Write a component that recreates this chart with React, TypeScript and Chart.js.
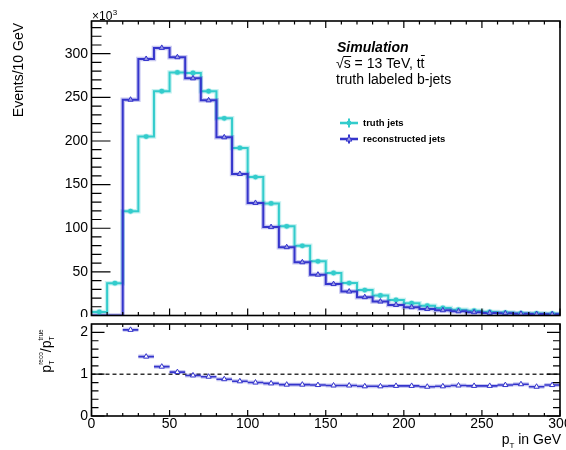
import React, { useEffect, useRef } from "react";
import { Chart, registerables } from "chart.js";

Chart.register(...registerables);

const FONT = "'Liberation Sans', Arial, Helvetica, sans-serif";

// ---------------- data ----------------
const binLowEdges = [0, 10, 20, 30, 40, 50, 60, 70, 80, 90, 100, 110, 120, 130, 140, 150, 160, 170, 180, 190, 200, 210, 220, 230, 240, 250, 260, 270, 280, 290];
const binWidth = 10;
// Events / 10 GeV, in units of 10^3
const truthJets = [4, 37, 119.5, 205, 257, 278.6, 277.9, 257, 226, 192, 158.6, 128.4, 102.2, 79.9, 62.1, 48.7, 37.2, 29.1, 22.9, 17.9, 14.1, 11.3, 8.7, 6.7, 5.5, 4.0, 3.4, 2.7, 2.3, 2.0];
const recoJets = [0, 0, 247.3, 294, 306.7, 296, 271.8, 246.6, 204.2, 162.2, 129, 101.3, 78.3, 61.0, 46.8, 36.0, 27.5, 21.0, 16.0, 12.1, 9.5, 7.5, 6.0, 4.8, 3.7, 3.0, 2.5, 2.0, 1.6, 1.5];
const ratioBinLowEdges = [20, 30, 40, 50, 60, 70, 80, 90, 100, 110, 120, 130, 140, 150, 160, 170, 180, 190, 200, 210, 220, 230, 240, 250, 260, 270, 280, 290];
const ratioValues = [2.06, 1.42, 1.18, 1.05, 0.97, 0.94, 0.88, 0.83, 0.80, 0.78, 0.75, 0.75, 0.74, 0.73, 0.73, 0.71, 0.71, 0.72, 0.72, 0.70, 0.71, 0.73, 0.72, 0.72, 0.74, 0.76, 0.70, 0.74];

const mainYTicks = [0, 50, 100, 150, 200, 250, 300];
const mainYTickLabels = ["0", "50", "100", "150", "200", "250", "300"];
const ratioYTicks = [0, 1, 2];
const ratioYTickLabels = ["0", "1", "2"];
const xTicks = [0, 50, 100, 150, 200, 250, 300];
const xTickLabels = ["0", "50", "100", "150", "200", "250", "300"];
const legendLabels = ["truth jets", "reconstructed jets"];

const CYAN = "#33cccc";
const CYAN_HALO = "rgba(51,204,204,0.28)";
const BLUE = "#3535cc";
const BLUE_HALO = "rgba(53,53,204,0.28)";

// ---------------- helpers ----------------
const stepData = (vals: number[]) => [
  ...binLowEdges.map((x, i) => ({ x, y: vals[i] })),
  { x: binLowEdges[binLowEdges.length - 1] + binWidth, y: vals[vals.length - 1] },
];
const centerData = (vals: number[], skipZero: boolean) =>
  binLowEdges.map((x, i) => ({ x: x + binWidth / 2, y: skipZero && vals[i] === 0 ? null : vals[i] }));
const ratioBars = ratioBinLowEdges.flatMap((x, i) => [
  { x, y: ratioValues[i] },
  { x: x + binWidth, y: ratioValues[i] },
  { x: x + binWidth, y: null },
]);
const ratioPoints = ratioBinLowEdges.map((x, i) => ({ x: x + binWidth / 2, y: ratioValues[i] }));

function rangeStep(a: number, b: number, s: number) {
  const out: number[] = [];
  for (let v = a; v <= b + 1e-9; v += s) out.push(Math.round(v * 1000) / 1000);
  return out;
}

type Side = { major: number; minor: number; majors: number[]; minors: number[] };
type FrameCfg = { left?: Side; right?: Side; top?: Side; bottom?: Side };

function framePlugin(cfg: FrameCfg) {
  return {
    id: "rootFrame",
    afterDatasetsDraw(chart: any) {
      const { ctx, chartArea: a, scales } = chart;
      const xs = scales.x;
      const ys = scales.y;
      ctx.save();
      ctx.strokeStyle = "#000";
      ctx.lineWidth = 1.2;
      ctx.beginPath();
      const seg = (x1: number, y1: number, x2: number, y2: number) => {
        ctx.moveTo(x1, y1);
        ctx.lineTo(x2, y2);
      };
      const doX = (s: Side | undefined, edge: number, dir: number) => {
        if (!s) return;
        s.majors.forEach((v) => {
          const p = xs.getPixelForValue(v);
          seg(p, edge, p, edge + dir * s.major);
        });
        s.minors.forEach((v) => {
          const p = xs.getPixelForValue(v);
          seg(p, edge, p, edge + dir * s.minor);
        });
      };
      const doY = (s: Side | undefined, edge: number, dir: number) => {
        if (!s) return;
        s.majors.forEach((v) => {
          const p = ys.getPixelForValue(v);
          seg(edge, p, edge + dir * s.major, p);
        });
        s.minors.forEach((v) => {
          const p = ys.getPixelForValue(v);
          seg(edge, p, edge + dir * s.minor, p);
        });
      };
      doX(cfg.bottom, a.bottom, -1);
      doX(cfg.top, a.top, 1);
      doY(cfg.left, a.left, 1);
      doY(cfg.right, a.right, -1);
      ctx.stroke();
      ctx.lineWidth = 1.6;
      ctx.strokeRect(a.left, a.top, a.right - a.left, a.bottom - a.top);
      ctx.restore();
    },
  };
}

function drawTriangle(ctx: CanvasRenderingContext2D, x: number, y: number, r: number) {
  ctx.beginPath();
  ctx.moveTo(x, y - r);
  ctx.lineTo(x + r * 0.95, y + r * 0.7);
  ctx.lineTo(x - r * 0.95, y + r * 0.7);
  ctx.closePath();
}

const mainTextPlugin = {
  id: "mainText",
  afterDraw(chart: any) {
    const ctx: CanvasRenderingContext2D = chart.ctx;
    ctx.save();
    ctx.fillStyle = "#000";
    ctx.textAlign = "left";
    ctx.textBaseline = "alphabetic";
    // x10^3
    ctx.font = `12px ${FONT}`;
    ctx.fillText("×10", 92, 20);
    const w10 = ctx.measureText("×10").width;
    ctx.font = `8px ${FONT}`;
    ctx.fillText("3", 92 + w10 + 0.5, 15);
    // y title
    ctx.save();
    ctx.translate(23, 23);
    ctx.rotate(-Math.PI / 2);
    ctx.font = `14px ${FONT}`;
    ctx.textAlign = "right";
    ctx.fillText("Events/10 GeV", 0, 0);
    ctx.restore();
    // Simulation
    ctx.font = `italic bold 14px ${FONT}`;
    ctx.fillText("Simulation", 337, 52);
    // sqrt(s) = 13 TeV, t tbar
    ctx.font = `14px ${FONT}`;
    let x = 336;
    const by = 68;
    ctx.fillText("√", x, by);
    x += ctx.measureText("√").width;
    const ws = ctx.measureText("s").width;
    ctx.fillText("s", x, by);
    ctx.strokeStyle = "#000";
    ctx.lineWidth = 1;
    ctx.beginPath();
    ctx.moveTo(x - 0.5, by - 11.5);
    ctx.lineTo(x + ws + 0.5, by - 11.5);
    ctx.stroke();
    x += ws;
    const mid = " = 13 TeV, t";
    ctx.fillText(mid, x, by);
    x += ctx.measureText(mid).width;
    const wt = ctx.measureText("t").width;
    ctx.fillText("t", x, by);
    ctx.beginPath();
    ctx.moveTo(x + 0.3, by - 12.5);
    ctx.lineTo(x + wt + 0.3, by - 12.5);
    ctx.stroke();
    // truth labeled b-jets
    ctx.fillText("truth labeled b-jets", 336, 84);

    // legend
    const rows = [
      { y: 123, color: CYAN, halo: CYAN_HALO, tri: false },
      { y: 139, color: BLUE, halo: BLUE_HALO, tri: true },
    ];
    rows.forEach((r, i) => {
      ctx.lineWidth = 4;
      ctx.strokeStyle = r.halo;
      ctx.beginPath();
      ctx.moveTo(340, r.y);
      ctx.lineTo(358, r.y);
      ctx.stroke();
      ctx.lineWidth = 2;
      ctx.strokeStyle = r.color;
      ctx.beginPath();
      ctx.moveTo(340, r.y);
      ctx.lineTo(358, r.y);
      ctx.moveTo(349, r.y - 4.5);
      ctx.lineTo(349, r.y + 4.5);
      ctx.stroke();
      if (r.tri) {
        drawTriangle(ctx, 349, r.y, 3);
        ctx.fillStyle = "#9a9ae6";
        ctx.fill();
        ctx.lineWidth = 1;
        ctx.strokeStyle = r.color;
        ctx.stroke();
      } else {
        ctx.beginPath();
        ctx.arc(349, r.y, 2.4, 0, Math.PI * 2);
        ctx.fillStyle = r.color;
        ctx.fill();
      }
      ctx.fillStyle = "#000";
      ctx.font = `bold 9.5px ${FONT}`;
      ctx.textBaseline = "middle";
      ctx.fillText(legendLabels[i], 363, r.y);
      ctx.textBaseline = "alphabetic";
    });
    ctx.restore();
  },
};

const ratioTextPlugin = {
  id: "ratioText",
  afterDraw(chart: any) {
    const ctx: CanvasRenderingContext2D = chart.ctx;
    const top = 317; // canvas offset on page
    ctx.save();
    ctx.fillStyle = "#000";
    ctx.textBaseline = "alphabetic";
    ctx.textAlign = "left";
    // x title: p_T in GeV, right aligned at 561
    const big = `14px ${FONT}`;
    const small = `8px ${FONT}`;
    ctx.font = big;
    const wp = ctx.measureText("p").width;
    const wRest = ctx.measureText(" in GeV").width;
    ctx.font = small;
    const wT = ctx.measureText("T").width;
    let x = 561 - wRest - wT - wp;
    const by = 444 - top;
    ctx.font = big;
    ctx.fillText("p", x, by);
    x += wp;
    ctx.font = small;
    ctx.fillText("T", x, by + 4);
    x += wT;
    ctx.font = big;
    ctx.fillText(" in GeV", x, by);

    // y title: p_T^reco / p_T^true (rotated)
    ctx.save();
    const sup = `6.5px ${FONT}`;
    const sub = `7px ${FONT}`;
    ctx.font = big;
    const a = ctx.measureText("p").width;
    const sl = ctx.measureText("/").width;
    ctx.font = sup;
    const reco = ctx.measureText("reco").width;
    const tru = ctx.measureText("true").width;
    ctx.font = sub;
    const t = ctx.measureText("T").width;
    const total = a + Math.max(t, reco) + sl + a + Math.max(t, tru);
    ctx.translate(51, 351 - top + total / 2);
    ctx.rotate(-Math.PI / 2);
    let tx = 0;
    ctx.font = big;
    ctx.fillText("p", tx, 0);
    tx += a;
    ctx.font = sub;
    ctx.fillText("T", tx, 3);
    ctx.font = sup;
    ctx.fillText("reco", tx, -8);
    tx += Math.max(t, reco);
    ctx.font = big;
    ctx.fillText("/", tx, 0);
    tx += sl;
    ctx.fillText("p", tx, 0);
    tx += a;
    ctx.font = sub;
    ctx.fillText("T", tx, 3);
    ctx.font = sup;
    ctx.fillText("true", tx, -8);
    ctx.restore();
    ctx.restore();
  },
};

const zeroPadV = (w: number) => (s: any) => {
  s.width = w;
  s.paddingTop = 0;
  s.paddingBottom = 0;
  s.paddingLeft = 0;
  s.paddingRight = 0;
};
const zeroPadH = (h: number) => (s: any) => {
  s.height = h;
  s.paddingTop = 0;
  s.paddingBottom = 0;
  s.paddingLeft = 0;
  s.paddingRight = 0;
};

const tickFont = { family: FONT, size: 14 };

const xMinor = rangeStep(0, 300, 10).filter((v) => v % 50 !== 0);
const mainYMinor = rangeStep(0, 330, 10).filter((v) => v % 50 !== 0);
const ratioYMinor = rangeStep(0, 2.0, 0.2).filter((v) => Math.abs(v - Math.round(v)) > 1e-6);

export default function App() {
  const topRef = useRef<HTMLCanvasElement | null>(null);
  const botRef = useRef<HTMLCanvasElement | null>(null);

  useEffect(() => {
    if (!topRef.current || !botRef.current) return;
    const common: any = {
      animation: false,
      responsive: false,
      events: [],
      plugins: { legend: { display: false }, tooltip: { enabled: false } },
    };

    const top = new Chart(topRef.current, {
      type: "line",
      data: {
        datasets: [
          { data: centerData(recoJets, true), showLine: false, pointStyle: "triangle", pointRadius: 3, pointBackgroundColor: "#9a9ae6", pointBorderColor: BLUE, pointBorderWidth: 1, order: 0 } as any,
          { data: centerData(truthJets, false), showLine: false, pointStyle: "circle", pointRadius: 2.4, pointBackgroundColor: CYAN, pointBorderColor: CYAN_HALO, pointBorderWidth: 1.5, order: 1 } as any,
          { data: stepData(recoJets), stepped: "before", borderColor: BLUE, borderWidth: 2, pointRadius: 0, order: 2 } as any,
          { data: stepData(recoJets), stepped: "before", borderColor: BLUE_HALO, borderWidth: 4.5, pointRadius: 0, order: 3 } as any,
          { data: stepData(truthJets), stepped: "before", borderColor: CYAN, borderWidth: 2, pointRadius: 0, order: 4 } as any,
          { data: stepData(truthJets), stepped: "before", borderColor: CYAN_HALO, borderWidth: 4.5, pointRadius: 0, order: 5 } as any,
        ],
      },
      options: {
        ...common,
        layout: { autoPadding: false, padding: { top: 21, right: 6, bottom: 1.5, left: 0 } },
        scales: {
          x: { type: "linear", min: 0, max: 300, display: false, afterFit: zeroPadH(0) },
          y: {
            type: "linear",
            min: 0,
            max: 337.5,
            afterBuildTicks: (s: any) => {
              s.ticks = mainYTicks.map((v) => ({ value: v }));
            },
            grid: { display: false, drawTicks: false },
            border: { display: false },
            ticks: { padding: 3.5, color: "#000", font: tickFont, autoSkip: false, callback: (_v: any, i: number) => mainYTickLabels[i] },
            afterFit: zeroPadV(91.5),
          },
        },
      } as any,
      plugins: [
        framePlugin({
          left: { major: 19, minor: 10, majors: mainYTicks, minors: mainYMinor },
          bottom: { major: 7, minor: 3.5, majors: xTicks, minors: xMinor },
          top: { major: 7, minor: 3.5, majors: xTicks, minors: xMinor },
        }),
        mainTextPlugin,
      ],
    });

    const bot = new Chart(botRef.current, {
      type: "line",
      data: {
        datasets: [
          { data: ratioPoints, showLine: false, pointStyle: "triangle", pointRadius: 3, pointBackgroundColor: "#ffffff", pointBorderColor: BLUE, pointBorderWidth: 1, order: 0 } as any,
          { data: ratioBars, borderColor: BLUE, borderWidth: 1.6, pointRadius: 0, spanGaps: false, order: 1 } as any,
          { data: ratioBars, borderColor: BLUE_HALO, borderWidth: 4, pointRadius: 0, spanGaps: false, order: 2 } as any,
          { data: [{ x: 0, y: 1 }, { x: 300, y: 1 }], borderColor: "#333333", borderWidth: 1.5, borderDash: [4, 3], pointRadius: 0, order: 3 } as any,
        ],
      },
      options: {
        ...common,
        layout: { autoPadding: false, padding: { top: 7, right: 6, bottom: 0, left: 0 } },
        scales: {
          x: {
            type: "linear",
            min: 0,
            max: 300,
            afterBuildTicks: (s: any) => {
              s.ticks = xTicks.map((v) => ({ value: v }));
            },
            grid: { display: false, drawTicks: false },
            border: { display: false },
            ticks: { padding: 0, color: "#000", font: tickFont, autoSkip: false, maxRotation: 0, callback: (_v: any, i: number) => xTickLabels[i] },
            afterFit: zeroPadH(34),
          },
          y: {
            type: "linear",
            min: 0,
            max: 2.2,
            afterBuildTicks: (s: any) => {
              s.ticks = ratioYTicks.map((v) => ({ value: v }));
            },
            grid: { display: false, drawTicks: false },
            border: { display: false },
            ticks: { padding: 3.5, color: "#000", font: tickFont, autoSkip: false, callback: (_v: any, i: number) => ratioYTickLabels[i] },
            afterFit: zeroPadV(91.5),
          },
        },
      } as any,
      plugins: [
        framePlugin({
          left: { major: 13, minor: 7, majors: ratioYTicks, minors: ratioYMinor },
          right: { major: 13, minor: 7, majors: ratioYTicks, minors: ratioYMinor },
          bottom: { major: 6, minor: 3, majors: xTicks, minors: xMinor },
          top: { major: 6, minor: 3, majors: xTicks, minors: xMinor },
        }),
        ratioTextPlugin,
      ],
    });

    return () => {
      top.destroy();
      bot.destroy();
    };
  }, []);

  return (
    <div style={{ position: "fixed", left: 0, top: 0, width: 566, height: 450, background: "#fff" }}>
      <canvas ref={topRef} width={566} height={317} style={{ position: "absolute", left: 0, top: 0, width: 566, height: 317 }} />
      <canvas ref={botRef} width={566} height={133} style={{ position: "absolute", left: 0, top: 317, width: 566, height: 133 }} />
    </div>
  );
}
